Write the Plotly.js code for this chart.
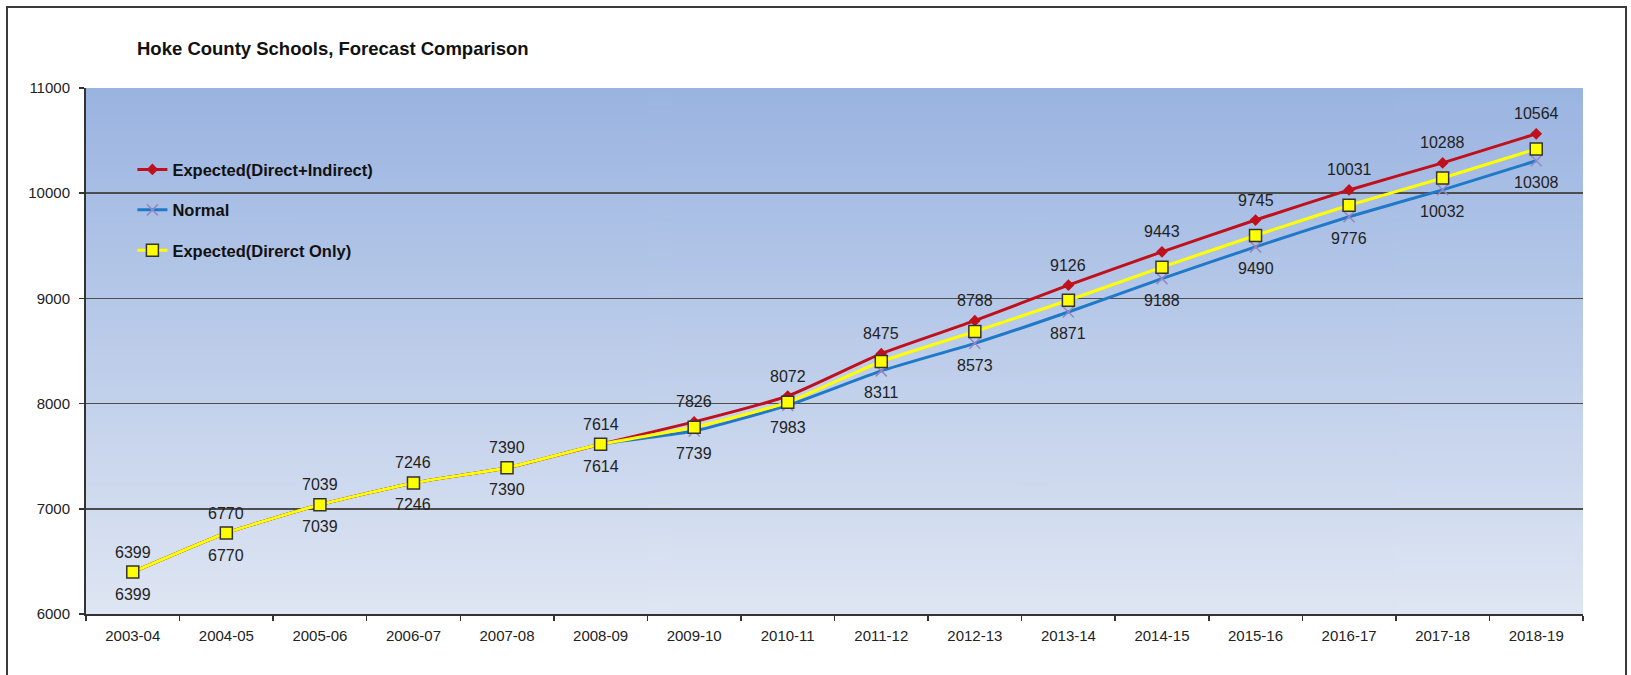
<!DOCTYPE html>
<html>
<head>
<meta charset="utf-8">
<script src="https://cdn.plot.ly/plotly-3.0.1.min.js"></script>
<style>
  html, body { margin: 0; padding: 0; background: #ffffff; }
  #wrap { position: relative; width: 1631px; height: 675px; overflow: hidden; }
  #chart { width: 1631px; height: 675px; }
  #frame { position: absolute; left: 6px; top: 6px; width: 1617px; height: 700px;
           border: 2px solid #3a3a3a; pointer-events: none; }
</style>
</head>
<body>
<div id="wrap">
  <div id="chart"></div>
  <div id="frame"></div>
</div>
<script>
// ---- data ----
const years = ["2003-04","2004-05","2005-06","2006-07","2007-08","2008-09","2009-10","2010-11",
               "2011-12","2012-13","2013-14","2014-15","2015-16","2016-17","2017-18","2018-19"];
const expectedDirectIndirect = [6399,6770,7039,7246,7390,7614,7826,8072,8475,8788,9126,9443,9745,10031,10288,10564];
const normal = [6399,6770,7039,7246,7390,7614,7739,7983,8311,8573,8871,9188,9490,9776,10032,10308];
const expectedDirectOnly = [6399,6770,7039,7246,7390,7614,7775,8012,8400,8685,8982,9297,9598,9885,10145,10420];
const seriesNames = ["Expected(Direct+Indirect)","Normal","Expected(Direrct Only)"];
const titleText = "Hoke County Schools, Forecast Comparison";

// ---- gradient background image ----
function gradientURL() {
  const c = document.createElement('canvas');
  c.width = 4; c.height = 256;
  const g = c.getContext('2d');
  const grd = g.createLinearGradient(0, 0, 0, 256);
  grd.addColorStop(0, '#9ab4e1');
  grd.addColorStop(1, '#dfe6f3');
  g.fillStyle = grd;
  g.fillRect(0, 0, 4, 256);
  return c.toDataURL();
}

const labelFont = {family: "Liberation Sans, Arial, sans-serif", size: 16, color: "#222222"};

const traces = [
  {
    x: years, y: normal, name: seriesNames[1], type: "scatter", mode: "lines+markers",
    line: {color: "#1f78c8", width: 3, shape: "spline", smoothing: 0.5},
    marker: {symbol: "x-thin", size: 11, line: {color: "#9188c4", width: 1.5}, color: "#9188c4"},
    legendgroup: "b", legendrank: 2, cliponaxis: false
  },
  {
    x: years, y: expectedDirectIndirect, name: seriesNames[0], type: "scatter", mode: "lines+markers",
    line: {color: "#c0101c", width: 3, shape: "spline", smoothing: 0.5},
    marker: {symbol: "diamond", size: 9, color: "#c0101c"},
    legendgroup: "a", legendrank: 1, cliponaxis: false
  },
  {
    x: years, y: expectedDirectOnly, name: seriesNames[2], type: "scatter", mode: "lines+markers",
    line: {color: "#ffff00", width: 3, shape: "spline", smoothing: 0.5},
    marker: {symbol: "square", size: 12, color: "#ffff00", line: {color: "#333333", width: 1.5}},
    legendgroup: "c", legendrank: 3, cliponaxis: false
  }
];

const annotations = [];
years.forEach((yr, i) => {
  annotations.push({x: yr, y: expectedDirectIndirect[i], xref: "x", yref: "y",
    text: String(expectedDirectIndirect[i]), showarrow: false, yshift: 20, font: labelFont});
  annotations.push({x: yr, y: normal[i], xref: "x", yref: "y",
    text: String(normal[i]), showarrow: false, yshift: -22, font: labelFont});
});

const layout = {
  width: 1631, height: 675,
  margin: {l: 86, r: 48, t: 88, b: 61},
  paper_bgcolor: "#ffffff",
  plot_bgcolor: "rgba(0,0,0,0)",
  title: {
    text: titleText, x: 137/1631, xanchor: "left", xref: "container",
    y: 1 - 49/675, yanchor: "middle", yref: "container",
    font: {family: "Liberation Sans, Arial, sans-serif", size: 18.5, weight: "bold", color: "#111111"}
  },
  font: {family: "Liberation Sans, Arial, sans-serif", color: "#222222"},
  showlegend: true,
  legend: {
    x: 0.031, y: 0.878, xanchor: "left", yanchor: "top",
    bgcolor: "rgba(0,0,0,0)", borderwidth: 0,
    tracegroupgap: 16, itemwidth: 30,
    font: {family: "Liberation Sans, Arial, sans-serif", size: 16.5, weight: "bold", color: "#111111"}
  },
  annotations: annotations,
  xaxis: {
    type: "category", range: [-0.5, years.length - 0.5], tickson: "boundaries",
    ticks: "outside", ticklen: 5, tickwidth: 1.5,
    tickcolor: "#333333", showline: true, linecolor: "#333333", linewidth: 2,
    showgrid: false, zeroline: false, fixedrange: true,
    tickfont: {family: "Liberation Sans, Arial, sans-serif", size: 15, color: "#222222"},
    ticklabelstandoff: 7
  },
  yaxis: {
    range: [6000, 11000], dtick: 1000, tick0: 6000, tickformat: "d",
    ticks: "outside", ticklen: 5, tickwidth: 1.5,
    tickcolor: "#333333", showline: true, linecolor: "#333333", linewidth: 2,
    showgrid: true, gridcolor: "#4d4d4d", gridwidth: 1.5, zeroline: false, fixedrange: true,
    tickfont: {family: "Liberation Sans, Arial, sans-serif", size: 15, color: "#222222"},
    ticklabelstandoff: 6
  },
  images: [{
    source: gradientURL(), xref: "paper", yref: "paper", x: 0, y: 1, sizex: 1, sizey: 1,
    xanchor: "left", yanchor: "top", sizing: "stretch", layer: "below"
  }]
};

Plotly.newPlot("chart", traces, layout, {displayModeBar: false, staticPlot: true});
</script>
</body>
</html>
